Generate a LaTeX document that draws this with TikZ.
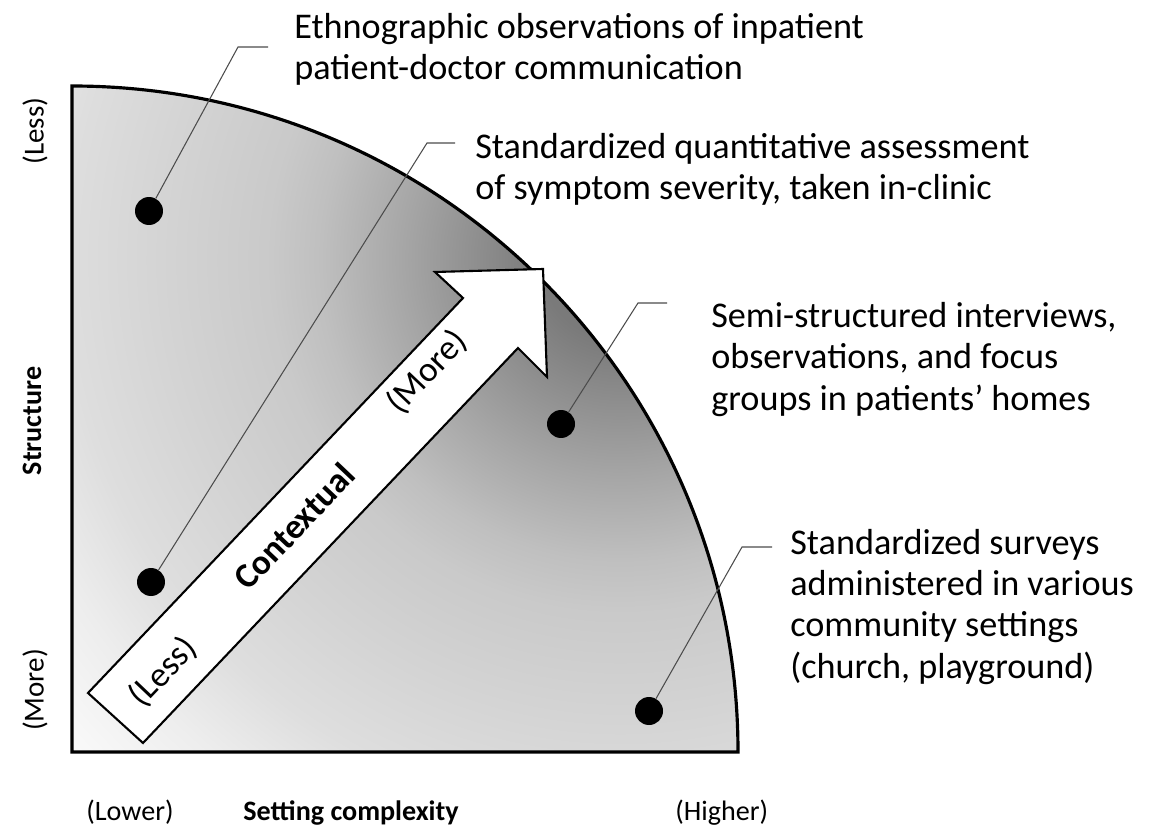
\documentclass[tikz,border=0pt]{standalone}
\usepackage{fontspec}
\setmainfont{Carlito}

% dark near the rim, fading towards the corner
\pgfdeclareradialshading{rim}{\pgfpoint{0bp}{0bp}}{
  color(0bp)=(black!56); color(2.7bp)=(black!52); color(7.2bp)=(black!35);
  color(10bp)=(black!25); color(11.7bp)=(black!21); color(15.2bp)=(black!17);
  color(18.5bp)=(black!13); color(21.3bp)=(black!7); color(24.6bp)=(black!2);
  color(50bp)=(black!2)}

\begin{document}
\begin{tikzpicture}[
    x=0.02cm, y=-0.02cm,
    frame/.style={
        draw=black,
        line width=1.8pt,
        line join=miter
    },
    dot/.style={
        circle,
        fill=black,
        inner sep=0pt,
        minimum size=0.56cm
    },
    leader/.style={
        draw=black!70,
        line width=0.6pt
    },
    note/.style={
        anchor=base west,
        align=left,
        inner sep=0pt,
        font=\fontsize{20.6}{23.5}\selectfont
    },
    axislabel/.style={
        inner sep=0pt,
        font=\fontsize{16}{19}\selectfont
    },
    bigarrow/.style={
        draw=black,
        fill=white,
        line width=1.2pt,
        line join=miter
    }
]
    \useasboundingbox (0,0) rectangle (1163,831);

    % quarter disc
    \begin{scope}
        \clip (72,752) -- (72,86) arc[start angle=-90, end angle=0, radius=666] -- cycle;
        \shade[shading=rim] (620,260) circle[radius=750];
    \end{scope}
    \draw[frame] (72,752) -- (72,86) arc[start angle=-90, end angle=0, radius=666] -- cycle;

    % the big arrow
    \draw[bigarrow] (88,693) -- (463,298) -- (435,272) -- (543,269)
        -- (547,377) -- (518,348) -- (143,743) -- cycle;
    \node[axislabel, rotate=46.5, font=\fontsize{20}{24}\selectfont] (less) at (163,672) {(Less)};
    \node[axislabel, rotate=46.5, font=\fontsize{20}{24}\selectfont\bfseries] (ctx) at (294,526) {Contextual};
    \node[axislabel, rotate=46.5, font=\fontsize{20}{24}\selectfont] (more) at (427,372) {(More)};

    % axes
    \node[axislabel, rotate=90, font=\fontsize{16.5}{19}\selectfont] (sless) at (35,131) {(Less)};
    \node[axislabel, rotate=90, font=\fontsize{16}{19}\selectfont\bfseries] (struct) at (32,421) {Structure};
    \node[axislabel, rotate=90, font=\fontsize{16.5}{19}\selectfont] (smore) at (35,690) {(More)};
    \node[axislabel, anchor=base west] (lower) at (86,820) {(Lower)};
    \node[axislabel, anchor=base west, font=\fontsize{16}{19}\selectfont\bfseries] (setting) at (243,820) {Setting complexity};
    \node[axislabel, anchor=base west] (higher) at (675,820) {(Higher)};

    % methods
    \node[dot] (d1) at (149,211) {};
    \node[dot] (d2) at (151,582) {};
    \node[dot] (d3) at (561,424) {};
    \node[dot] (d4) at (649,711) {};

    \coordinate (e1) at (238,47);
    \coordinate (t1) at (268,47);
    \coordinate (e2) at (427,143);
    \coordinate (t2) at (455,143);
    \coordinate (e3) at (638,303);
    \coordinate (t3) at (667,303);
    \coordinate (e4) at (742,547);
    \coordinate (t4) at (772,547);

    \draw[leader] (d1) -- (e1) -- (t1);
    \draw[leader] (d2) -- (e2) -- (t2);
    \draw[leader] (d3) -- (e3) -- (t3);
    \draw[leader] (d4) -- (e4) -- (t4);

    \node[note] (n1) at (294,80) {Ethnographic observations of inpatient\\patient-doctor communication};
    \node[note] (n2) at (475,200) {Standardized quantitative assessment\\of symptom severity, taken in-clinic};
    \node[note] (n3) at (711,410) {Semi-structured interviews,\\observations, and focus\\groups in patients’ homes};
    \node[note] (n4) at (790,678) {Standardized surveys\\administered in various\\community settings\\(church, playground)};
\end{tikzpicture}
\end{document}
